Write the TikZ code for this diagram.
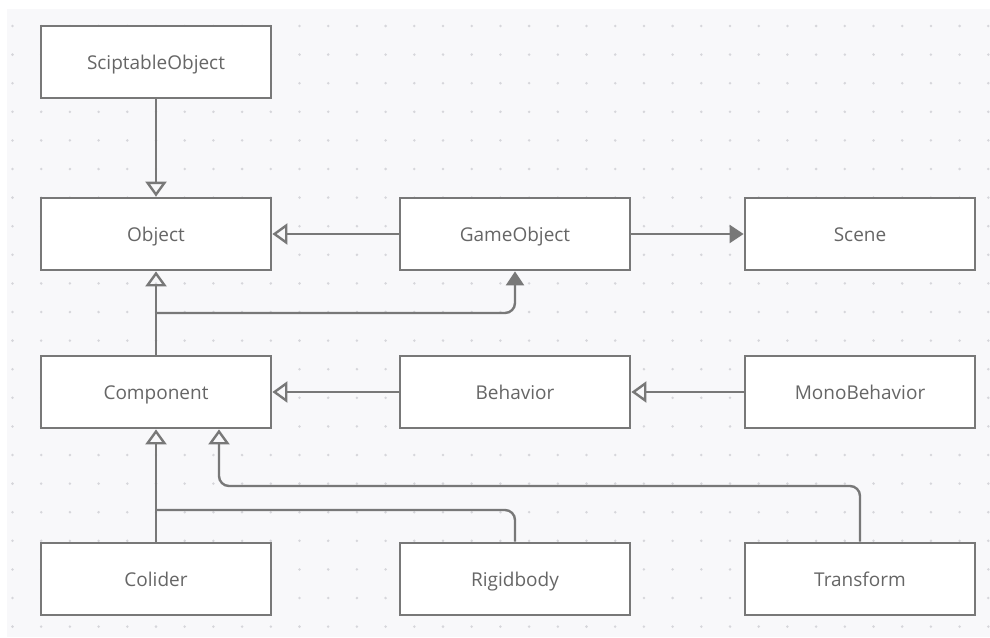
\documentclass[tikz,border=0pt]{standalone}
\usepackage{fontspec}
\setmainfont{Open Sans}
\usetikzlibrary{arrows.meta}
\definecolor{bgc}{HTML}{F8F8FA}
\definecolor{dotc}{HTML}{D6D6DB}
\definecolor{linec}{HTML}{787878}
\definecolor{textc}{HTML}{666666}
\tikzset{
  cls/.style={draw=linec, line width=2.8pt, fill=white, minimum width=230pt, minimum height=72pt, inner sep=0pt, text=textc, font=\fontsize{19}{22}\selectfont, text height=15pt, text depth=0pt},
  conn/.style={draw=linec, line width=2.4pt},
  inh/.style={conn, -{Triangle[open, length=15pt, width=21pt, line width=2.4pt]}},
  asc/.style={conn, -{Triangle[length=14pt, width=18pt]}, rounded corners=10pt},
  rc/.style={rounded corners=10pt}
}
\begin{document}
\begin{tikzpicture}[x=1pt,y=-1pt]
\useasboundingbox (0,0) rectangle (990,637);
\fill[white] (0,0) rectangle (990,637);
\fill[bgc] (7,9) rectangle (990,637);
\foreach \i in {0,...,34} {
  \foreach \j in {0,...,21} {
    \fill[dotc] ({12.5+28.7*\i},{26+28.6*\j}) circle (1.4pt);
  }
}
\node[cls] (so) at (156,62) {SciptableObject};
\node[cls] (obj) at (156,234) {Object};
\node[cls] (go) at (515,234) {GameObject};
\node[cls] (sc) at (860,234) {Scene};
\node[cls] (comp) at (156,392) {Component};
\node[cls] (beh) at (515,392) {Behavior};
\node[cls] (mono) at (860,392) {MonoBehavior};
\node[cls] (col) at (156,579) {Colider};
\node[cls] (rb) at (515,579) {Rigidbody};
\node[cls] (tr) at (860,579) {Transform};
\coordinate (j1) at (156,313);
\coordinate (j2) at (156,510);
\coordinate (t1) at (219,486);
\draw[inh] (so.south) -- (obj.north);
\draw[inh] (go.west) -- (obj.east);
\draw[asc] (go.east) -- (sc.west);
\draw[inh] (comp.north) -- (obj.south);
\draw[asc] (j1) -| (go.south);
\draw[inh] (beh.west) -- (comp.east);
\draw[inh] (mono.west) -- (beh.east);
\draw[inh] (col.north) -- (comp.south);
\draw[conn, rc] (rb.north) |- (j2);
\draw[inh, rc] (tr.north) |- (t1) -- (t1 |- comp.south);
\end{tikzpicture}
\end{document}
